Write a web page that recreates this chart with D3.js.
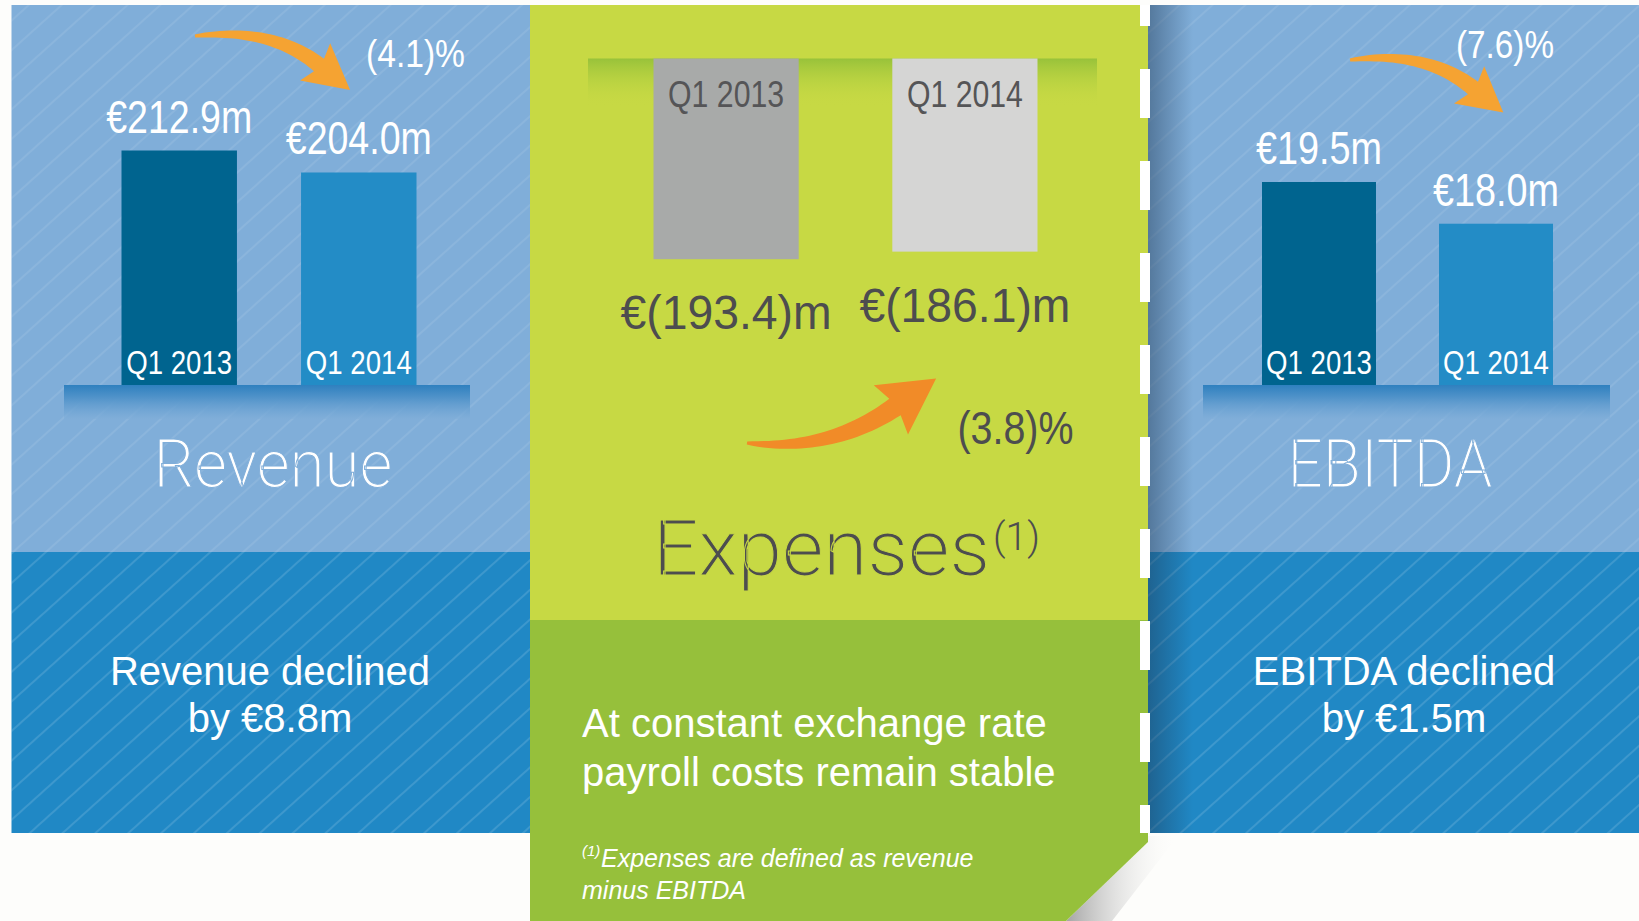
<!DOCTYPE html>
<html>
<head>
<meta charset="utf-8">
<script src="https://cdn.jsdelivr.net/npm/d3@7"></script>
<style>
  body { margin: 0; background: #fdfdfb; }
  svg { display: block; }
</style>
</head>
<body>
<div id="chart"></div>
<script>
// values
var periods = ["Q1 2013", "Q1 2014"];
var revenue = [212.9, 204.0];
var expenses = [193.4, 186.1];
var ebitda = [19.5, 18.0];
var changes = ["(4.1)%", "(3.8)%", "(7.6)%"];
var titles = ["Revenue", "Expenses", "EBITDA"];
var revenueNote = ["Revenue declined", "by €8.8m"];
var expensesNote = ["At constant exchange rate", "payroll costs remain stable"];
var ebitdaNote = ["EBITDA declined", "by €1.5m"];
var footnote = ["Expenses are defined as revenue", "minus EBITDA"];

var width = 1639, height = 921,
  panelTop = 5, blueSplit = 552, blueBottom = 833, greenSplit = 620,
  greenX0 = 530, greenX1 = 1148,
  barColors = ["#00648f", "#238cc6"],
  greyColors = ["#a8aaa9", "#d5d5d4"],
  darkText = "#4d4d4f",
  numFont = "'Liberation Sans Narrow', 'Liberation Sans', Arial, sans-serif",
  thinFont = "Roboto, 'Open Sans', sans-serif",
  plainFont = "'Liberation Sans', Arial, sans-serif";

var fmt = d3.format(".1f");
function money(v) { return "€" + fmt(v) + "m"; }
function moneyNeg(v) { return "€(" + fmt(v) + ")m"; }

var svg = d3.select("#chart").append("svg")
  .attr("width", width).attr("height", height);

var defs = svg.append("defs");

function stripes(id, op) {
  var p = defs.append("pattern").attr("id", id)
    .attr("patternUnits", "userSpaceOnUse")
    .attr("width", 22).attr("height", 22)
    .attr("patternTransform", "rotate(48)");
  p.append("line").attr("x1", 1).attr("x2", 1).attr("y1", 0).attr("y2", 22)
    .attr("stroke", "#fff").attr("stroke-opacity", op).attr("stroke-width", 1.3);
}
stripes("stripesTop", 0.13);
stripes("stripesLow", 0.2);

function vGrad(id, stops) {
  var g = defs.append("linearGradient").attr("id", id)
    .attr("x1", 0).attr("x2", 0).attr("y1", 0).attr("y2", 1);
  stops.forEach(function(s) {
    g.append("stop").attr("offset", s[0]).attr("stop-color", s[1]).attr("stop-opacity", s[2]);
  });
}
function hGrad(id, stops) {
  var g = defs.append("linearGradient").attr("id", id)
    .attr("x1", 0).attr("x2", 1).attr("y1", 0).attr("y2", 0);
  stops.forEach(function(s) {
    g.append("stop").attr("offset", s[0]).attr("stop-color", s[1]).attr("stop-opacity", s[2]);
  });
}
vGrad("platform", [[0, "#2f80bf", 1], [0.35, "#4f92c9", 1], [1, "#80aed9", 0.6]]);
vGrad("greenBand", [[0, "#98c23a", 1], [1, "#c7d944", 0]]);
hGrad("edgeShadow", [[0, "#1d3550", 0.45], [1, "#1d3550", 0]]);
hGrad("cutShadow", [[0, "#9a9a9a", 0.9], [1, "#ffffff", 0]]);

// blue background panels
function bluePanel(x0, x1) {
  svg.append("rect").attr("x", x0).attr("y", panelTop)
    .attr("width", x1 - x0).attr("height", blueSplit - panelTop).attr("fill", "#80aed9");
  svg.append("rect").attr("x", x0).attr("y", panelTop)
    .attr("width", x1 - x0).attr("height", blueSplit - panelTop).attr("fill", "url(#stripesTop)");
  svg.append("rect").attr("x", x0).attr("y", blueSplit)
    .attr("width", x1 - x0).attr("height", blueBottom - blueSplit).attr("fill", "#2088c5");
  svg.append("rect").attr("x", x0).attr("y", blueSplit)
    .attr("width", x1 - x0).attr("height", blueBottom - blueSplit).attr("fill", "url(#stripesLow)");
}
bluePanel(11.5, greenX0);
bluePanel(greenX1, width);
svg.append("rect").attr("x", greenX1).attr("y", panelTop)
  .attr("width", 45).attr("height", blueBottom - panelTop).attr("fill", "url(#edgeShadow)");

// green panel with the cut corner
var greenShape = [[greenX0, panelTop], [greenX1, panelTop], [greenX1, 842], [1066, height], [greenX0, height]];
defs.append("clipPath").attr("id", "greenClip")
  .append("path").attr("d", "M" + greenShape.join("L") + "Z");
svg.append("path")
  .attr("d", "M1148,836L1148,842L1066,921L1112,921L1178,836Z")
  .attr("fill", "url(#cutShadow)");
var green = svg.append("g").attr("clip-path", "url(#greenClip)");
green.append("rect").attr("x", greenX0).attr("y", panelTop)
  .attr("width", greenX1 - greenX0).attr("height", greenSplit - panelTop).attr("fill", "#c7d944");
green.append("rect").attr("x", greenX0).attr("y", greenSplit)
  .attr("width", greenX1 - greenX0).attr("height", height - greenSplit).attr("fill", "#96c03b");

svg.append("line").attr("x1", 1145).attr("x2", 1145).attr("y1", panelTop).attr("y2", blueBottom)
  .attr("stroke", "#fff").attr("stroke-width", 10)
  .attr("stroke-dasharray", "49 43").attr("stroke-dashoffset", 28);

// hand-drawn looking orange arrows
function arrowPath(p0, c, p1, w0, w1, headLen, headHalf) {
  var n = 30, left = [], right = [], dx, dy, len, nx, ny;
  for (var i = 0; i <= n; i++) {
    var t = i / n, mt = 1 - t;
    var x = mt * mt * p0[0] + 2 * mt * t * c[0] + t * t * p1[0];
    var y = mt * mt * p0[1] + 2 * mt * t * c[1] + t * t * p1[1];
    dx = 2 * mt * (c[0] - p0[0]) + 2 * t * (p1[0] - c[0]);
    dy = 2 * mt * (c[1] - p0[1]) + 2 * t * (p1[1] - c[1]);
    len = Math.hypot(dx, dy); nx = -dy / len; ny = dx / len;
    var w = (w0 + (w1 - w0) * Math.pow(t, 0.7)) / 2;
    left.push([x + nx * w, y + ny * w]);
    right.push([x - nx * w, y - ny * w]);
  }
  var ux = dx / len, uy = dy / len;
  var tip = [p1[0] + ux * headLen, p1[1] + uy * headLen];
  var bA = [p1[0] + nx * headHalf - ux * 5, p1[1] + ny * headHalf - uy * 5];
  var bB = [p1[0] - nx * headHalf - ux * 5, p1[1] - ny * headHalf - uy * 5];
  var pts = left.concat([bA, tip, bB], right.reverse());
  return "M" + pts.map(function(p) { return p[0].toFixed(1) + "," + p[1].toFixed(1); }).join("L") + "Z";
}

function fitText(sel, w) {
  return sel.attr("textLength", w).attr("lengthAdjust", "spacingAndGlyphs");
}
// a thin stroke in the background colour makes the titles a touch lighter
function thin(sel, bg, sw) {
  return sel.attr("stroke", bg).attr("stroke-width", sw).attr("paint-order", "fill");
}

// Revenue and EBITDA share the same layout; their axes don't start at zero on the slide
function blueChart(cfg) {
  var g = svg.append("g");
  var x = d3.scaleBand().domain(periods).range(cfg.xRange).paddingInner(cfg.pad);
  var y = d3.scaleLinear().domain(cfg.yDomain).range([385, cfg.yTop]);

  g.append("rect").attr("x", cfg.platform[0]).attr("y", 385)
    .attr("width", cfg.platform[1] - cfg.platform[0]).attr("height", 34)
    .attr("fill", "url(#platform)");

  g.selectAll("rect.bar").data(cfg.values).enter().append("rect")
    .attr("class", "bar")
    .attr("x", function(d, i) { return x(periods[i]); })
    .attr("y", function(d) { return y(d); })
    .attr("width", x.bandwidth())
    .attr("height", function(d) { return 385 - y(d); })
    .attr("fill", function(d, i) { return barColors[i]; });

  g.selectAll("text.period").data(periods).enter().append("text")
    .attr("x", function(d) { return x(d) + x.bandwidth() / 2; })
    .attr("y", 374)
    .attr("text-anchor", "middle")
    .attr("font-family", numFont).attr("font-size", 34).attr("fill", "#fff")
    .text(function(d) { return d; })
    .call(fitText, 106);

  g.selectAll("text.value").data(cfg.values).enter().append("text")
    .attr("x", function(d, i) { return x(periods[i]) + x.bandwidth() / 2; })
    .attr("y", function(d) { return y(d) - 18; })
    .attr("text-anchor", "middle")
    .attr("font-family", numFont).attr("font-size", 46).attr("fill", "#fff")
    .text(money)
    .call(fitText, cfg.valueWidth);

  g.append("path").attr("d", cfg.arrow).attr("fill", "#f5a332");
  g.append("text").attr("x", cfg.change[0]).attr("y", cfg.change[1])
    .attr("font-family", numFont).attr("font-size", 39).attr("fill", "#fff")
    .text(cfg.changeText).call(fitText, cfg.change[2]);

  g.append("text").attr("x", cfg.title[0]).attr("y", 487)
    .attr("text-anchor", "middle")
    .attr("font-family", thinFont).attr("font-weight", 300)
    .attr("font-size", 66).attr("fill", "#fff")
    .text(cfg.titleText).call(fitText, cfg.title[1])
    .call(thin, "#80aed9", 1);

  g.selectAll("text.note").data(cfg.note).enter().append("text")
    .attr("x", cfg.noteX)
    .attr("y", function(d, i) { return 685 + i * 47; })
    .attr("text-anchor", "middle")
    .attr("font-family", plainFont).attr("font-size", 40).attr("fill", "#fff")
    .text(function(d) { return d; });
}

blueChart({
  values: revenue, xRange: [121.5, 416.5], pad: 0.357,
  yDomain: [118, 212.9], yTop: 150.5, platform: [64, 470],
  valueWidth: 146, changeText: changes[0], change: [366, 67, 99],
  arrow: arrowPath([195, 36], [272, 27], [319, 65], 3, 16, 40, 24),
  titleText: titles[0], title: [273, 239],
  note: revenueNote, noteX: 270
});

blueChart({
  values: ebitda, xRange: [1262, 1553], pad: 0.356,
  yDomain: [12.2, 19.5], yTop: 182, platform: [1203, 1610],
  valueWidth: 126, changeText: changes[2], change: [1456, 58, 98],
  arrow: arrowPath([1350, 60], [1426, 50], [1473, 88], 3, 16, 39, 24),
  titleText: titles[2], title: [1390, 205],
  note: ebitdaNote, noteX: 1404
});

// Expenses: bars hang down from the top
var ex = d3.scaleBand().domain(periods).range([653.5, 1037.5]).paddingInner(0.392);
var ey = d3.scaleLinear().domain([0, 193.4]).range([0, 200.7]);
var eg = svg.append("g");

eg.append("rect").attr("x", 588).attr("y", 58.5).attr("width", 509).attr("height", 48)
  .attr("fill", "url(#greenBand)");

eg.selectAll("rect.bar").data(expenses).enter().append("rect")
  .attr("x", function(d, i) { return ex(periods[i]); })
  .attr("y", 58.5)
  .attr("width", ex.bandwidth())
  .attr("height", function(d) { return ey(d); })
  .attr("fill", function(d, i) { return greyColors[i]; });

eg.selectAll("text.period").data(periods).enter().append("text")
  .attr("x", function(d) { return ex(d) + ex.bandwidth() / 2; })
  .attr("y", 107)
  .attr("text-anchor", "middle")
  .attr("font-family", numFont).attr("font-size", 37).attr("fill", "#555557")
  .text(function(d) { return d; })
  .call(fitText, 116);

eg.selectAll("text.value").data(expenses).enter().append("text")
  .attr("x", function(d, i) { return ex(periods[i]) + ex.bandwidth() / 2; })
  .attr("y", function(d) { return 58.5 + ey(d) + 70; })
  .attr("text-anchor", "middle")
  .attr("font-family", numFont).attr("font-size", 48).attr("fill", darkText)
  .text(moneyNeg)
  .call(fitText, 211);

eg.append("path")
  .attr("d", arrowPath([747, 443], [830, 452], [895, 407], 3, 20, 50, 30))
  .attr("fill", "#f18b28");
eg.append("text").attr("x", 957.5).attr("y", 444)
  .attr("font-family", numFont).attr("font-size", 46).attr("fill", darkText)
  .text(changes[1]).call(fitText, 116);

eg.append("text").attr("x", 653).attr("y", 575)
  .attr("font-family", thinFont).attr("font-weight", 300)
  .attr("font-size", 78).attr("fill", darkText)
  .text(titles[1]).call(fitText, 337)
  .call(thin, "#c7d944", 1);
eg.append("text").attr("x", 993).attr("y", 550)
  .attr("font-family", thinFont).attr("font-weight", 300)
  .attr("font-size", 38).attr("fill", darkText)
  .text("(1)").call(fitText, 47);

eg.selectAll("text.note").data(expensesNote).enter().append("text")
  .attr("x", 582)
  .attr("y", function(d, i) { return 737 + i * 49; })
  .attr("font-family", plainFont).attr("font-size", 40).attr("fill", "#fff")
  .text(function(d) { return d; });

eg.append("text").attr("x", 582).attr("y", 856)
  .attr("font-family", plainFont).attr("font-style", "italic")
  .attr("font-size", 15).attr("fill", "#fff")
  .text("(1)");
eg.selectAll("text.foot").data(footnote).enter().append("text")
  .attr("x", function(d, i) { return i === 0 ? 601 : 582; })
  .attr("y", function(d, i) { return 867 + i * 32; })
  .attr("font-family", plainFont).attr("font-style", "italic")
  .attr("font-size", 25).attr("fill", "#fff")
  .text(function(d) { return d; });
</script>
</body>
</html>
